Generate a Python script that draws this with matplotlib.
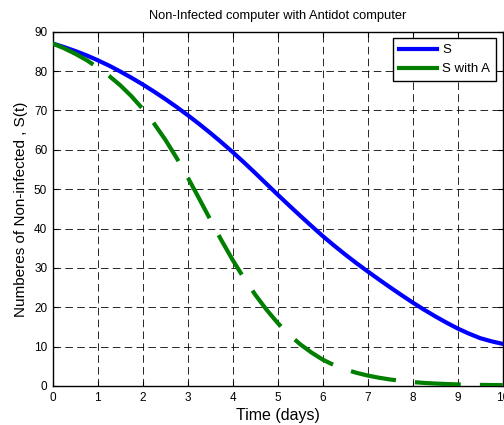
"""Non-infected population S(t) with and without the antidote computer."""

import matplotlib

matplotlib.use("Agg")
import matplotlib.pyplot as plt  # noqa: E402

plt.rcParams["font.family"] = ["Liberation Sans", "DejaVu Sans"]

# time grid (days), quarter-day steps
t_days = [0, 0.25, 0.5, 0.75, 1, 1.25, 1.5, 1.75, 2, 2.25, 2.5, 2.75,
          3, 3.25, 3.5, 3.75, 4, 4.25, 4.5, 4.75, 5, 5.25, 5.5, 5.75,
          6, 6.25, 6.5, 6.75, 7, 7.25, 7.5, 7.75, 8, 8.25, 8.5, 8.75,
          9, 9.25, 9.5, 9.75, 10]
# susceptible machines, no antidote
s_plain = [87.0, 86.1, 85.1, 84.0, 82.75, 81.4, 79.9, 78.3, 76.6, 74.8, 72.9, 70.9,
           68.8, 66.6, 64.3, 61.9, 59.4, 56.8, 54.1, 51.35, 48.6, 45.9, 43.25, 40.65,
           38.1, 35.7, 33.4, 31.2, 29.1, 27.05, 25.05, 23.1, 21.2, 19.4, 17.7, 16.1,
           14.6, 13.3, 12.15, 11.35, 10.7]
# susceptible machines with the antidote computer
s_antidote = [87.0, 85.8, 84.4, 82.8, 80.9, 78.8, 76.4, 73.6, 70.4, 66.7, 62.6, 58.0,
              53.0, 47.7, 42.3, 37.0, 32.0, 27.4, 23.2, 19.4, 16.0, 13.1, 10.6, 8.5,
              6.7, 5.3, 4.2, 3.35, 2.65, 2.1, 1.65, 1.3, 1.0, 0.78, 0.62, 0.5,
              0.4, 0.33, 0.28, 0.24, 0.21]

x_ticks = list(range(0, 11))
y_ticks = list(range(0, 91, 10))

fig = plt.figure(figsize=(5.04, 4.25), dpi=100)
ax = fig.add_axes([0.1046, 0.0918, 0.8928, 0.8336])

ax.plot(t_days, s_plain, color="#0000ff", lw=3, label="S", zorder=3)
ax.plot(t_days, s_antidote, color="#007f00", lw=3, label="S with A",
        linestyle=(0, (11, 4.6)), zorder=3)

ax.set_xlim(0, 10)
ax.set_ylim(0, 90)
ax.set_xticks(x_ticks)
ax.set_yticks(y_ticks)
ax.tick_params(direction="in", length=3.5, width=0.8, labelsize=8.5,
               top=True, right=True, pad=4)
ax.grid(True, color="k", lw=0.7, dashes=(7.8, 4.4), alpha=0.85)
for sp in ax.spines.values():
    sp.set_linewidth(1.0)

ax.set_title("Non-Infected computer with Antidot computer", fontsize=9.3, pad=9)
ax.set_xlabel("Time (days)", fontsize=11.5, labelpad=3)
ax.set_ylabel("Numberes of Non-infected , S(t)", fontsize=11, labelpad=4)

leg = ax.legend(loc="upper right", fontsize=9.5, frameon=True, fancybox=False,
                edgecolor="k", framealpha=1, handlelength=2.9,
                borderaxespad=0.5, labelspacing=0.5, handletextpad=0.4,
                borderpad=0.45)
leg.get_frame().set_linewidth(1.0)
for h in leg.get_lines():
    h.set_linestyle("-")

fig.savefig("out.png", dpi=100)
